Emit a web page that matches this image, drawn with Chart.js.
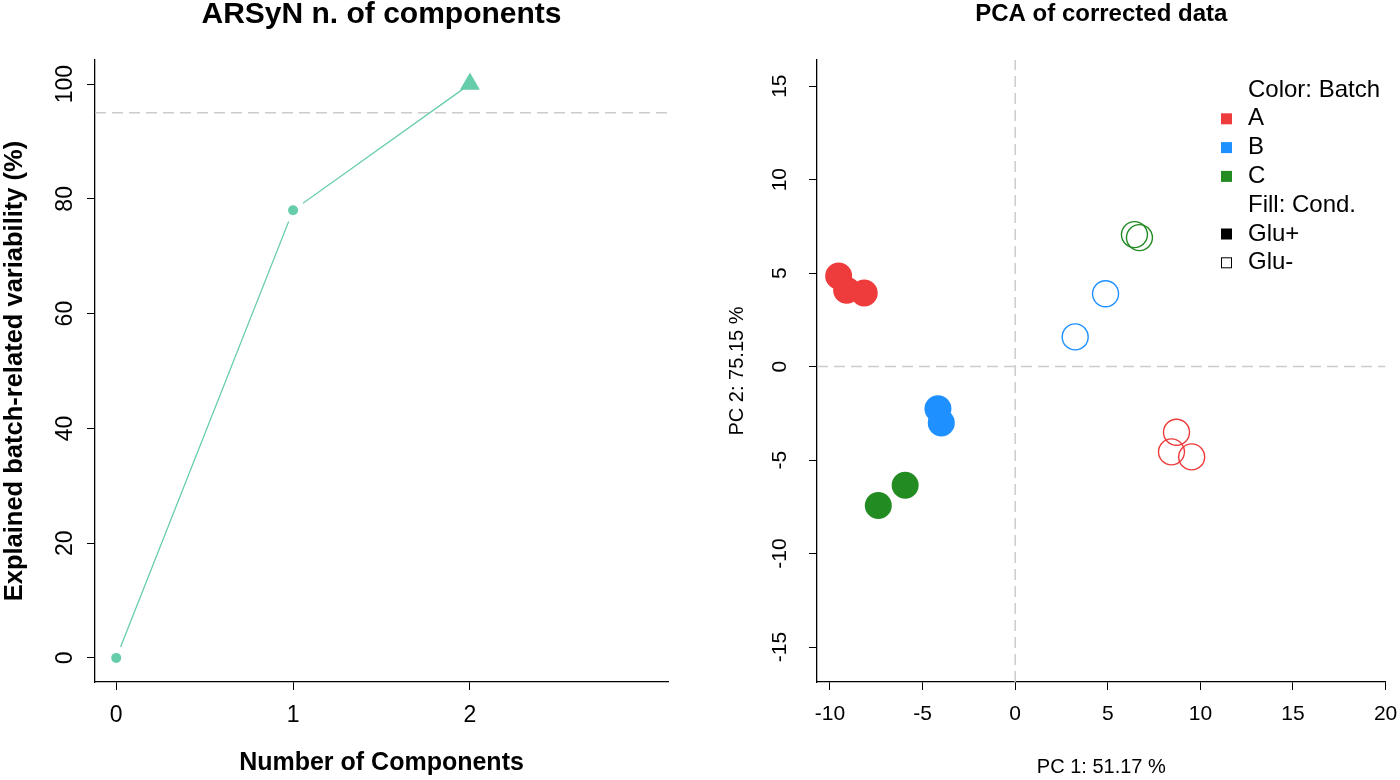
<!DOCTYPE html>
<html>
<head>
<meta charset="utf-8">
<script src="https://cdn.jsdelivr.net/npm/chart.js@4.4.1/dist/chart.umd.min.js"></script>
<style>
  html, body { margin: 0; padding: 0; background: #fff; }
  .panel { position: absolute; top: 0; width: 700px; height: 780px; }
  #left { left: 0; }
  #right { left: 700px; }
</style>
</head>
<body>
<div class="panel" id="left"><canvas id="arsyn"></canvas></div>
<div class="panel" id="right"><canvas id="pca"></canvas></div>
<script>
// ---- left panel: ARSyN components ----
const nComponents = [0, 1, 2];
const explainedVar = [0, 78, 100];
const compMarkers = ['circle', 'circle', 'triangle'];
const thresholdVar = 95;

// ---- right panel: PCA scores ----
const sampleBatch = ['A', 'A', 'A', 'B', 'B', 'C', 'C', 'A', 'A', 'A', 'B', 'B', 'C', 'C'];
const sampleCond = ['Glu+', 'Glu+', 'Glu+', 'Glu+', 'Glu+', 'Glu+', 'Glu+', 'Glu-', 'Glu-', 'Glu-', 'Glu-', 'Glu-', 'Glu-', 'Glu-'];
const pc1 = [-9.53, -9.10, -8.15, -4.17, -3.99, -5.94, -7.39, 8.71, 8.44, 9.53, 4.88, 3.24, 6.44, 6.71];
const pc2 = [4.85, 4.09, 3.94, -2.26, -3.01, -6.35, -7.43, -3.51, -4.56, -4.83, 3.90, 1.59, 7.06, 6.90];
const batches = ['A', 'B', 'C'];
const batchColors = ['#EE3B3B', '#1E90FF', '#228B22'];
const conditions = ['Glu+', 'Glu-'];

const FONT = '"Liberation Sans", Arial, sans-serif';
const AQUA = '#66CDAA';
const DASH_GREY = '#CCCCCC';

Chart.defaults.font.family = FONT;
Chart.defaults.color = '#000';
Chart.defaults.animation = false;

// fixed axis box sizes so the plot areas sit where R put them
function fixWidth(w) {
    return function (scale) { scale.width = w; scale.paddingTop = 0; scale.paddingBottom = 0; };
}
function fixHeight(h) {
    return function (scale) { scale.height = h; scale.paddingLeft = 0; scale.paddingRight = 0; };
}

function rAxis(extra) {
    return Object.assign({
        type: 'linear',
        grid: { drawOnChartArea: false, drawTicks: true, tickLength: 8, color: '#000', lineWidth: 1 },
        border: { display: true, color: '#000', width: 1.3 }
    }, extra);
}

// left chart
const xMinL = -0.12, xMaxL = 3.12;
new Chart(document.getElementById('arsyn').getContext('2d'), {
    type: 'scatter',
    data: {
        datasets: [
            {
                label: 'explained',
                data: nComponents.map((c, i) => ({ x: c, y: explainedVar[i] })),
                showLine: true,
                borderColor: AQUA,
                borderWidth: 1.3,
                backgroundColor: AQUA,
                pointStyle: compMarkers,
                pointRadius: [8.5, 8.5, 11.5],
                pointBorderWidth: [7, 7, 0],
                pointBorderColor: '#fff',
                pointBackgroundColor: AQUA,
                order: 0
            },
            {
                label: 'threshold',
                data: [{ x: xMinL, y: thresholdVar }, { x: xMaxL, y: thresholdVar }],
                showLine: true,
                borderColor: DASH_GREY,
                borderWidth: 1.5,
                borderDash: [11, 6],
                pointRadius: 0,
                order: 1
            }
        ]
    },
    options: {
        responsive: true,
        maintainAspectRatio: false,
        layout: { padding: { left: 0, right: 32, top: 0, bottom: 0 } },
        plugins: {
            legend: { display: false },
            tooltip: { enabled: false },
            title: {
                display: true,
                fullSize: false,
                text: 'ARSyN n. of components',
                font: { size: 30, weight: 'bold', lineHeight: 1 },
                color: '#000',
                padding: { top: 0, bottom: 30 }
            }
        },
        scales: {
            x: rAxis({
                min: xMinL, max: xMaxL,
                afterFit: fixHeight(98),
                // R only put ticks at the components that exist
                afterBuildTicks: scale => { scale.ticks = scale.ticks.filter(t => t.value <= 2); },
                ticks: { stepSize: 1, includeBounds: false, font: { size: 23 }, padding: 12 },
                title: { display: true, text: 'Number of Components', font: { size: 25, weight: 'bold' }, padding: { top: 0, bottom: 2 } }
            }),
            y: rAxis({
                min: -4.2, max: 104.2,
                afterFit: fixWidth(95),
                ticks: { stepSize: 20, includeBounds: false, font: { size: 23 }, padding: 2,
                         minRotation: 90, maxRotation: 90, crossAlign: 'center' },
                title: { display: true, text: 'Explained batch-related variability (%)', font: { size: 25.5, weight: 'bold' }, padding: { top: 0, bottom: 0 } }
            })
        }
    }
});

// legend drawn inside the plot, like R's legend(bty = 'n')
const pcaLegend = {
    id: 'pcaLegend',
    afterDraw(chart) {
        const ctx = chart.ctx;
        const rows = [{ text: 'Color: Batch' }]
            .concat(batches.map((b, i) => ({ text: b, fill: batchColors[i] })))
            .concat([{ text: 'Fill: Cond.' }, { text: conditions[0], fill: '#000' }, { text: conditions[1], open: true }]);
        ctx.save();
        ctx.font = '24px ' + FONT;
        ctx.textBaseline = 'middle';
        rows.forEach((r, i) => {
            const y = 90 + i * 28.8;
            if (r.fill) {
                ctx.fillStyle = r.fill;
                ctx.fillRect(521, y - 5.5, 11, 11);
            } else if (r.open) {
                ctx.strokeStyle = '#000';
                ctx.lineWidth = 1;
                ctx.strokeRect(521.5, y - 5, 10, 10);
            }
            ctx.fillStyle = '#000';
            ctx.fillText(r.text, 548, y);
        });
        ctx.restore();
    }
};

// right chart
const xMinR = -10.7, xMaxR = 20, yMinR = -16.87, yMaxR = 16.4;
const pcaSets = [];
conditions.forEach(cond => {
    batches.forEach((b, bi) => {
        const pts = [];
        pc1.forEach((v, i) => {
            if (sampleBatch[i] === b && sampleCond[i] === cond) pts.push({ x: v, y: pc2[i] });
        });
        const filled = cond === 'Glu+';
        pcaSets.push({
            label: b + ' ' + cond,
            data: pts,
            pointRadius: filled ? 13.5 : 13,
            pointBorderWidth: filled ? 0 : 1.4,
            pointBackgroundColor: filled ? batchColors[bi] : 'rgba(0,0,0,0)',
            pointBorderColor: batchColors[bi],
            order: 0
        });
    });
});
pcaSets.push({
    label: 'h0', data: [{ x: xMinR, y: 0 }, { x: xMaxR, y: 0 }],
    showLine: true, borderColor: DASH_GREY, borderWidth: 1.5, borderDash: [11, 6], pointRadius: 0, order: 1
});
pcaSets.push({
    label: 'v0', data: [{ x: 0, y: yMinR }, { x: 0, y: yMaxR }],
    showLine: true, borderColor: DASH_GREY, borderWidth: 1.5, borderDash: [11, 6], pointRadius: 0, order: 1
});

new Chart(document.getElementById('pca').getContext('2d'), {
    type: 'scatter',
    data: { datasets: pcaSets },
    options: {
        responsive: true,
        maintainAspectRatio: false,
        layout: { padding: { left: 0, right: 0, top: 0, bottom: 0 } },
        plugins: {
            legend: { display: false },
            tooltip: { enabled: false },
            title: {
                display: true,
                fullSize: false,
                text: 'PCA of corrected data',
                font: { size: 24, weight: 'bold', lineHeight: 1 },
                color: '#000',
                padding: { top: 2, bottom: 34 }
            }
        },
        scales: {
            x: rAxis({
                min: xMinR, max: xMaxR,
                afterFit: fixHeight(98),
                ticks: { stepSize: 5, includeBounds: false, font: { size: 21 }, padding: 12 },
                title: { display: true, text: 'PC 1: 51.17 %', font: { size: 20 }, padding: { top: 0, bottom: 1 } }
            }),
            y: rAxis({
                min: yMinR, max: yMaxR,
                afterFit: fixWidth(117),
                ticks: { stepSize: 5, includeBounds: false, font: { size: 21 }, padding: 14,
                         minRotation: 90, maxRotation: 90, crossAlign: 'center' },
                title: { display: true, text: 'PC 2: 75.15 %', font: { size: 20 }, padding: { top: 25, bottom: 0 } }
            })
        }
    },
    plugins: [pcaLegend]
});
</script>
</body>
</html>
